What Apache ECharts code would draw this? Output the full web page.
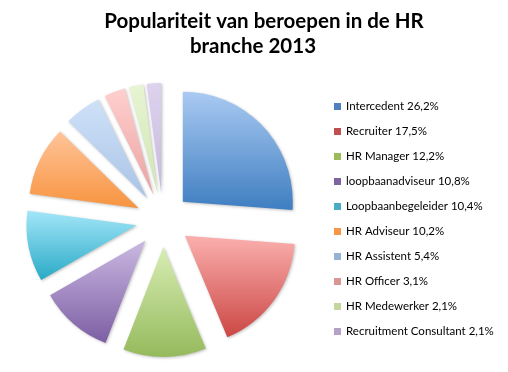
<!DOCTYPE html>
<html>
<head>
<meta charset="utf-8">
<script src="https://cdn.jsdelivr.net/npm/echarts@6/dist/echarts.min.js"></script>
<style>html,body{margin:0;padding:0;background:#fff}#c{width:508px;height:372px}</style>
</head>
<body>
<div id="c"></div>
<script>
const categories = ['Intercedent', 'Recruiter', 'HR Manager', 'loopbaanadviseur', 'Loopbaanbegeleider', 'HR Adviseur', 'HR Assistent', 'HR Officer', 'HR Medewerker', 'Recruitment Consultant'];
const values = [26.2, 17.5, 12.2, 10.8, 10.4, 10.2, 5.4, 3.1, 2.1, 2.1];
const titleLines = ['Populariteit van beroepen in de HR', 'branche 2013'];

const baseColors = ['#4F81BD', '#C0504D', '#9BBB59', '#8064A2', '#4BACC6', '#F79646', '#95B3D7', '#D99694', '#C3D69B', '#B3A2C7'];
const topColors = ['#AACAF2', '#FBB0AE', '#D8EDB4', '#CBB9E2', '#A3E6F8', '#FFC49A', '#CFE1F8', '#FFCFCE', '#E7F5D2', '#DDD3EE'];
const bottomColors = ['#3E7EC1', '#CB4744', '#95BA5C', '#7C5EA3', '#29AAC6', '#F7943F', '#A9C4E6', '#E9A3A2', '#CFE5B2', '#C6B8DC'];

function fmt(v) { return v.toFixed(1).replace('.', ','); }

const titleStyle = {fontFamily: 'Lato', fontWeight: 'bold', fontSize: 20.5, color: '#000'};

const chart = echarts.init(document.getElementById('c'), null, {renderer: 'canvas'});
chart.setOption({
  animation: false,
  backgroundColor: '#ffffff',
  title: [
    {text: titleLines[0], left: 264, top: 11, textAlign: 'center', padding: 0, textStyle: titleStyle},
    {text: titleLines[1], left: 253, top: 36, textAlign: 'center', padding: 0, textStyle: titleStyle}
  ],
  legend: {
    orient: 'vertical',
    left: 334,
    top: 100,
    padding: 0,
    itemWidth: 7,
    itemHeight: 7,
    itemGap: 12,
    icon: 'rect',
    selectedMode: false,
    textStyle: {fontFamily: 'Lato', fontSize: 11.5, color: '#000', lineHeight: 13},
    formatter: function (name) {
      const i = categories.indexOf(name);
      return name + ' ' + fmt(values[i]) + '%';
    },
    data: categories.map((c, i) => ({name: c, itemStyle: {color: baseColors[i]}}))
  },
  series: [{
    type: 'pie',
    center: [163, 220],
    radius: [0, 110],
    startAngle: 90,
    clockwise: true,
    selectedMode: 'multiple',
    selectedOffset: 27,
    label: {show: false},
    labelLine: {show: false},
    emphasis: {disabled: true},
    itemStyle: {shadowBlur: 3, shadowColor: 'rgba(0,0,0,0.25)', shadowOffsetX: 1, shadowOffsetY: 1},
    data: categories.map((c, i) => ({
      name: c,
      value: values[i],
      selected: true,
      itemStyle: {
        color: new echarts.graphic.LinearGradient(0, 0, 0, 1, [
          {offset: 0, color: topColors[i]},
          {offset: 1, color: bottomColors[i]}
        ])
      }
    }))
  }]
});
</script>
</body>
</html>
